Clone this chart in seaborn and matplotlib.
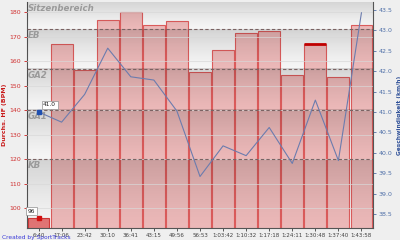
import numpy as np
import matplotlib
matplotlib.use("Agg")
import matplotlib.pyplot as plt
import seaborn as sns
import pandas as pd

# ---- data ----
laps = ["6:40", "17:06", "23:42", "30:10", "36:41", "43:15", "49:56", "56:53",
        "1:03:42", "1:10:32", "1:17:18", "1:24:11", "1:30:48", "1:37:40", "1:43:58"]
hr = [96, 167, 156.5, 177, 180, 175, 176.5, 155.5, 164.5, 171.5, 172.5, 154.5, 167, 153.5, 175]
speed = [41.0, 40.75, 41.43, 42.56, 41.86, 41.78, 41.02, 39.42, 40.17, 39.93,
         40.62, 39.74, 41.29, 39.81, 43.43]
zone_bounds = [120, 140, 157, 173]
zone_names = ["KB", "GA1", "GA2", "EB", "Sitzenbereich"]
hr_ticks = [100, 110, 120, 130, 140, 150, 160, 170, 180]
speed_ticks = [38.5, 39.0, 39.5, 40.0, 40.5, 41.0, 41.5, 42.0, 42.5, 43.0, 43.5]

sns.set_style("white")
plt.rcParams['font.family'] = ['DejaVu Sans']

HR_LIM = (92.0, 184.2)
SP_LIM = (38.16, 43.69)

fig = plt.figure(figsize=(4.0, 2.4), dpi=100, facecolor="#efefef")
ax = fig.add_axes([27/400, 12/240, 346/400, 226/240])
ax.set_facecolor("#f5f5f5")

df = pd.DataFrame({"lap": laps, "hr": hr, "speed": speed, "idx": np.arange(len(laps))})
colors = ["#e07474"] + ["#ebb8b8"] * (len(laps) - 1)
sns.barplot(data=df, x="lap", y="hr", hue="lap", palette=colors, legend=False,
            width=0.95, ax=ax, edgecolor="#dc5c5c", linewidth=0.8, saturation=1, zorder=2)
for i, p in enumerate(ax.patches):
    if i == 0:
        p.set_edgecolor("#d03838")

# highlighted top edge of the 1:30:48 bar
sel = laps.index("1:30:48")
ax.plot([sel - 0.47, sel + 0.47], [hr[sel], hr[sel]], color="#c00000", lw=2.0,
        solid_capstyle="butt", zorder=6)

# zone gradient bands
edges = [HR_LIM[0]] + zone_bounds + [HR_LIM[1]]
N = 64
for k in range(len(edges) - 1):
    lo, hi = edges[k], edges[k + 1]
    a = 0.14 * np.linspace(1.0, 0.0, N) ** 1.3
    img = np.zeros((N, 1, 4))
    img[:, 0, 3] = a
    ax.imshow(img, extent=(-0.5, len(laps) - 0.5, lo, hi), aspect="auto",
              origin="upper", zorder=3, interpolation="bilinear")
    ax.text(-0.48, hi - 0.8, zone_names[k], ha="left", va="top", fontsize=6.2,
            style="italic", fontweight="bold", color="#9a9a9a", zorder=5)
for b in zone_bounds:
    ax.axhline(b, color="#7a6262", lw=0.8, ls=(0, (3, 2)), zorder=5)

# grid
for t in hr_ticks:
    ax.axhline(t, color="#d8d8d8", lw=0.7, alpha=0.7, zorder=4)

ax.set_xlim(-0.5, len(laps) - 0.5)
ax.set_ylim(*HR_LIM)
ax.set_yticks(hr_ticks)
ax.tick_params(axis="y", colors="#d02020", labelsize=4.5, length=2.5, width=0.6,
               direction="out", pad=1.5, left=True)
ax.tick_params(axis="x", colors="#404040", labelsize=4.0, length=2, width=0.6,
               direction="out", pad=1.5, bottom=True)
for lab in ax.get_yticklabels():
    lab.set_color("#d03030")
ax.set_xlabel("")
ax.set_ylabel("Durchs. HF (BPM)", color="#c81818", fontsize=4.5, fontweight="bold", labelpad=2)
for s in ["left", "bottom"]:
    ax.spines[s].set_color("#555555")
    ax.spines[s].set_linewidth(0.8)
ax.spines["top"].set_visible(False)
ax.spines["right"].set_visible(False)

# bar value annotation + marker
ax.plot([0], [hr[0]], marker="s", ms=2.2, color="#d01010", zorder=7, ls="none")
ax.annotate(f"{hr[0]:.0f}", (0, hr[0]), xytext=(-5, 5), textcoords="offset points",
            fontsize=4.2, color="#202020", ha="center", va="center", zorder=8,
            bbox=dict(boxstyle="square,pad=0.25", fc="white", ec="#909090", lw=0.5))

# speed line
ax2 = ax.twinx()
sns.lineplot(data=df, x="idx", y="speed", ax=ax2, color="#6c7cae", lw=0.8, zorder=6)
ax2.plot([0], [speed[0]], marker="s", ms=2.2, color="#2050b0", ls="none", zorder=7)
ax2.annotate(f"{speed[0]:.1f}", (0, speed[0]), xytext=(8, 5), textcoords="offset points",
             fontsize=4.2, color="#202020", ha="center", va="center", zorder=8,
             bbox=dict(boxstyle="square,pad=0.25", fc="white", ec="#909090", lw=0.5))
ax2.set_ylim(*SP_LIM)
ax2.set_yticks(speed_ticks)
ax2.set_yticklabels([f"{t:.1f}" for t in speed_ticks])
ax2.tick_params(axis="y", colors="#5070a8", labelsize=4.5, length=2.5, width=0.6,
                direction="out", pad=1.5, right=True)
ax2.set_xlabel("")
ax2.set_ylabel("Geschwindigkeit (km/h)", color="#2e4f98", fontsize=4.2,
               fontweight="bold", labelpad=1)
ax2.yaxis.set_label_coords(1.068, 0.5)
ax2.spines["right"].set_color("#555555")
ax2.spines["right"].set_linewidth(0.8)
ax2.spines["top"].set_visible(False)
ax2.spines["left"].set_visible(False)
ax2.spines["bottom"].set_visible(False)
ax2.set_xlim(-0.5, len(laps) - 0.5)
ax2.grid(False)

fig.text(0.004, 0.002, "Created by SportTracks", fontsize=4.2, color="#3a3ad8",
         ha="left", va="bottom")

fig.savefig("out.png", dpi=100, facecolor=fig.get_facecolor())
